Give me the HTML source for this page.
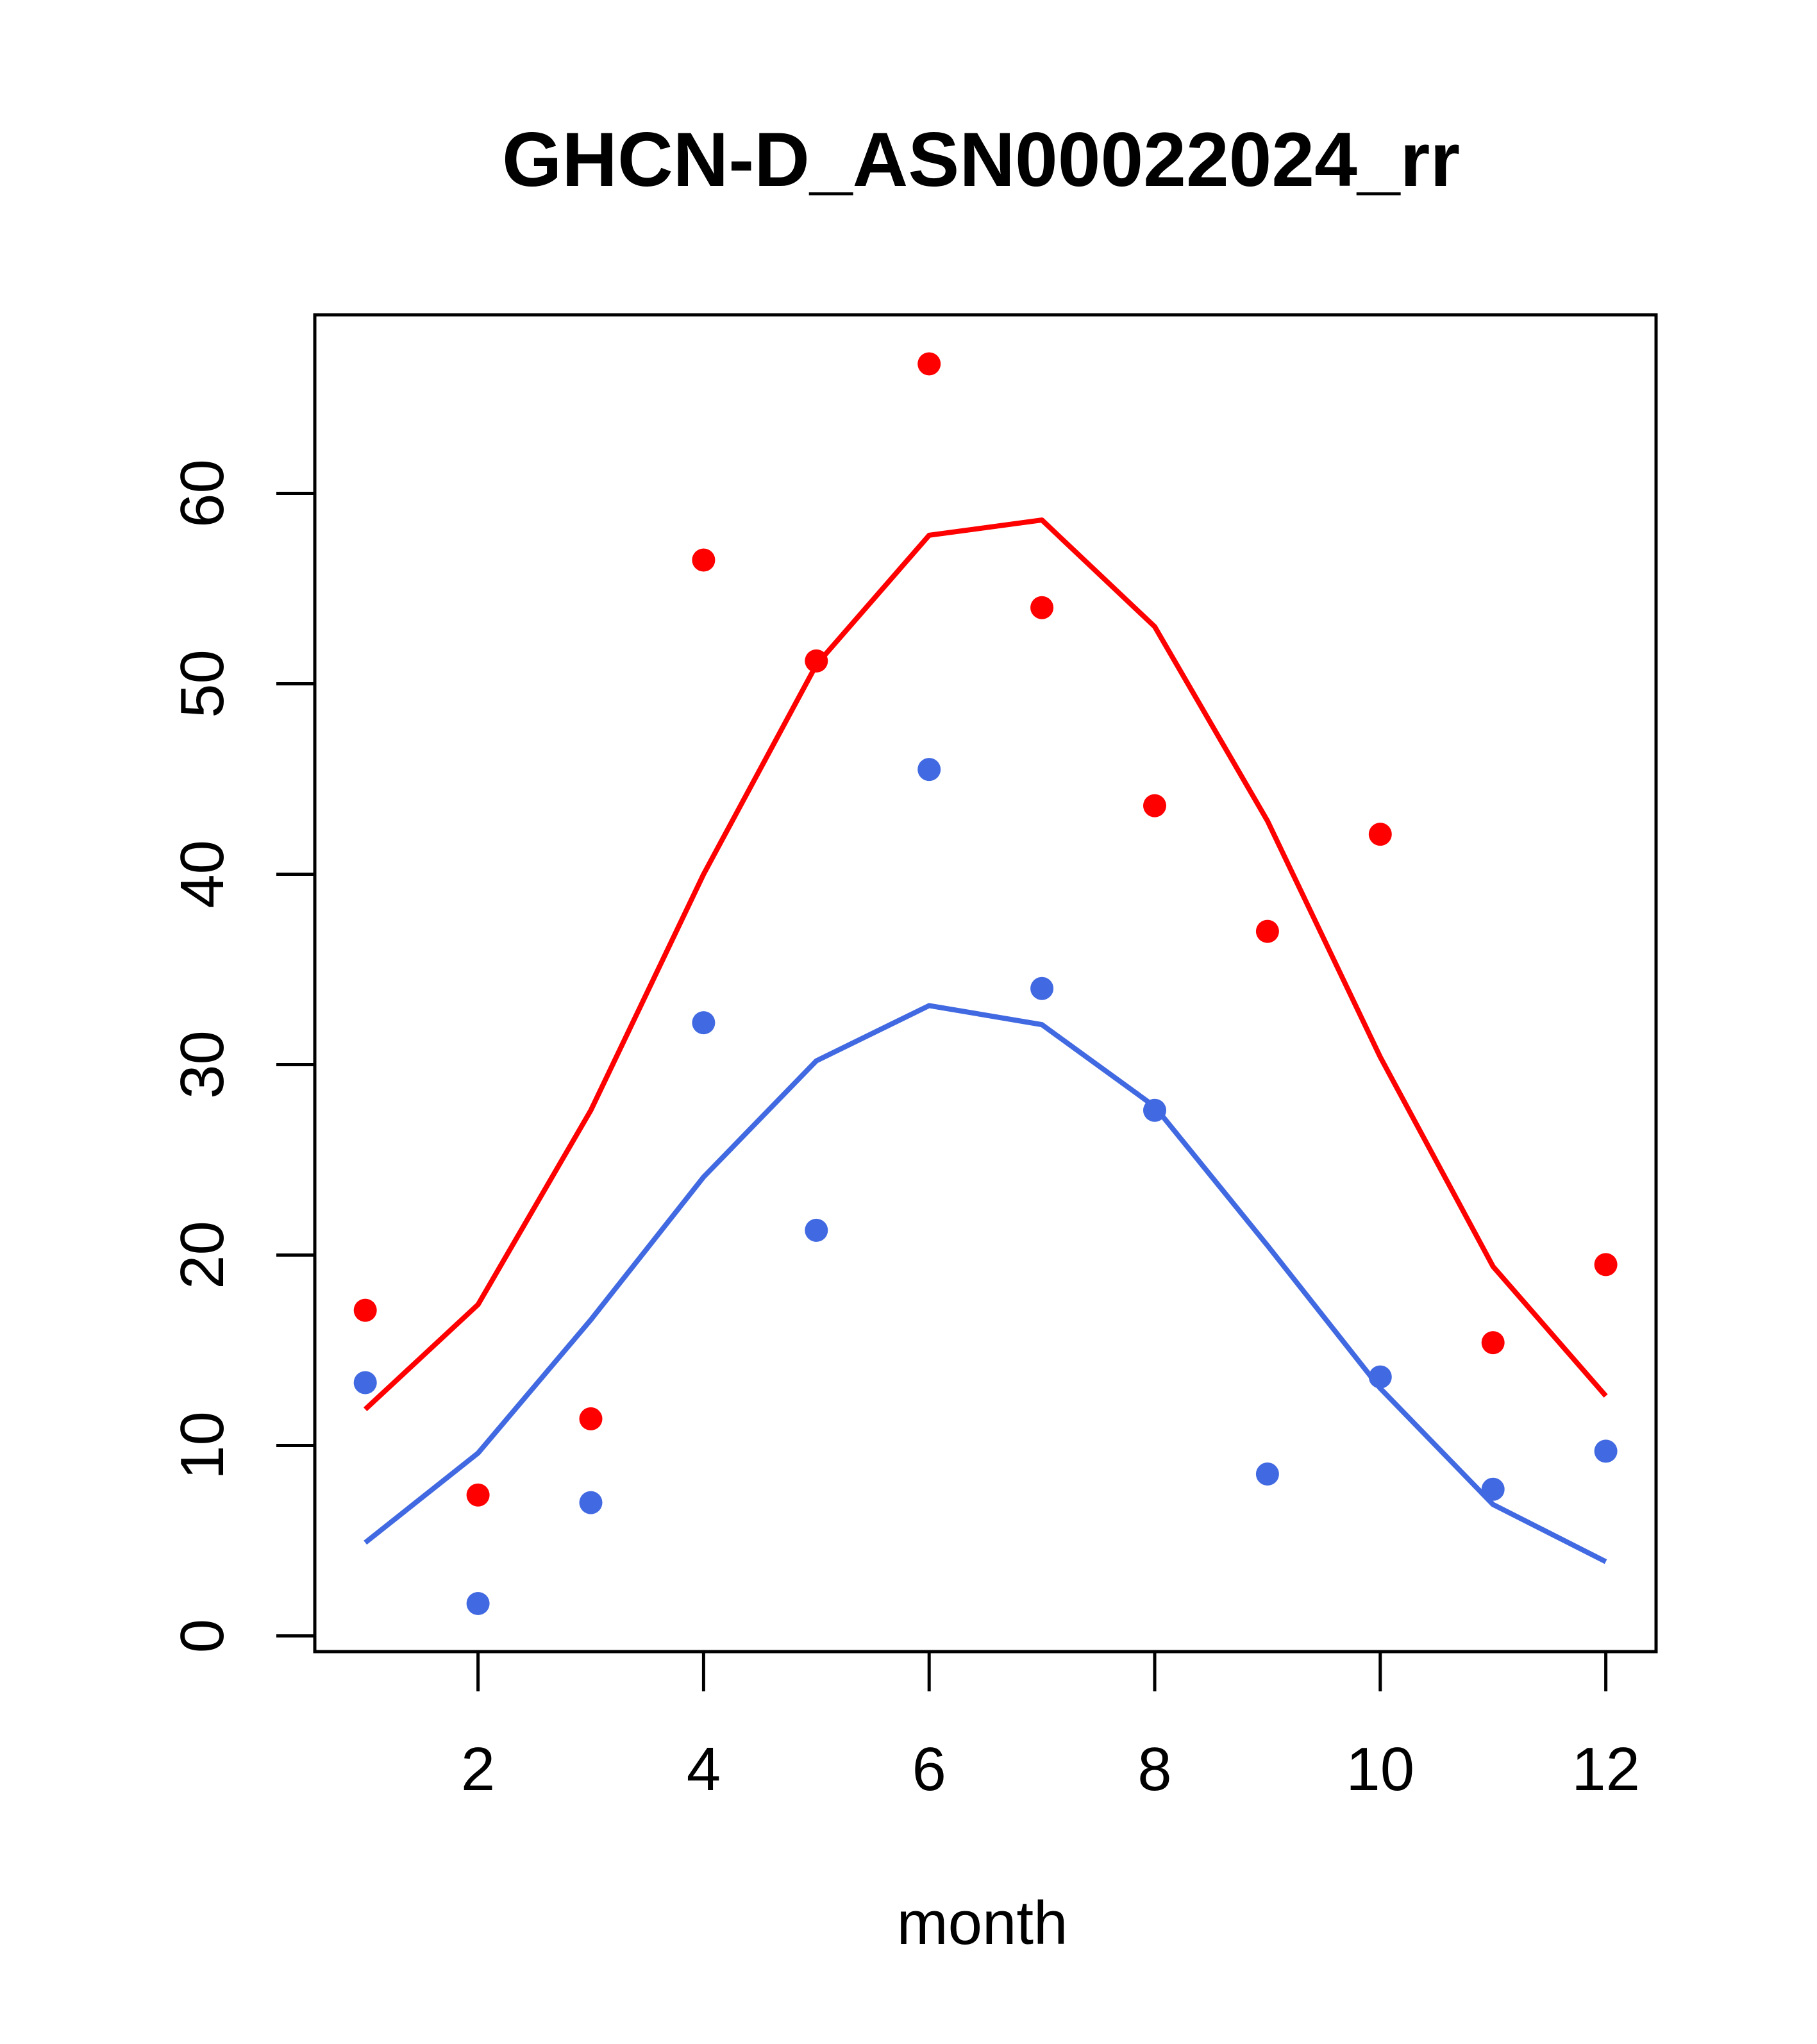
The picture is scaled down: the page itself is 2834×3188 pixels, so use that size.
<!DOCTYPE html>
<html><head><meta charset="utf-8"><style>html,body{margin:0;padding:0;background:#fff}svg{display:block}</style></head>
<body>
<svg id="chart" xmlns="http://www.w3.org/2000/svg" width="2834" height="3188" viewBox="0 0 2834 3188" font-family="Liberation Sans, sans-serif">
<rect width="2834" height="3188" fill="#fff"/>
<text x="1530" y="290" text-anchor="middle" font-size="120" font-weight="bold">GHCN-D_ASN00022024_rr</text>
<rect x="491" y="491" width="2092" height="2085" fill="none" stroke="#000" stroke-width="5"/>
<g id="axes"></g>
<g id="series"></g>
<text x="1532" y="3032" text-anchor="middle" font-size="96">month</text>
</svg>
<script>
const months = [1,2,3,4,5,6,7,8,9,10,11,12];
const redPoints = [17.1,7.4,11.4,56.5,51.2,66.8,54.0,43.6,37.0,42.1,15.4,19.5];
const redLine = [11.9,17.4,27.6,40.0,51.0,57.8,58.6,53.0,42.8,30.4,19.4,12.6];
const bluePoints = [13.3,1.7,7.0,32.2,21.3,45.5,34.0,27.6,8.5,13.6,7.7,9.7];
const blueLine = [4.9,9.6,16.6,24.1,30.2,33.1,32.1,27.8,20.5,13.0,6.9,3.9];
const xTicks = [2,4,6,8,10,12];
const yTicks = [0,10,20,30,40,50,60];

const NS = "http://www.w3.org/2000/svg";
function xs(m){ return 569.7 + (m-1)*175.9; }
function ys(v){ return 2551.5 - v*29.7; }
function mk(tag, attrs, parent){ const e=document.createElementNS(NS,tag); for(const k in attrs) e.setAttribute(k,attrs[k]); parent.appendChild(e); return e; }

const axes = document.getElementById('axes');
const series = document.getElementById('series');

const xl = mk('line',{x1:xs(2),x2:xs(12),y1:2576,y2:2576,stroke:'#000','stroke-width':5},axes);


xTicks.forEach(t=>{
  const l = mk('line',{x1:xs(t),x2:xs(t),y1:2576,y2:2638,stroke:'#000','stroke-width':5},axes);
  
  
  const tx = mk('text',{x:xs(t),y:2792,'text-anchor':'middle','font-size':96},axes);
  
  
  tx.textContent = t;
});
const yl = mk('line',{x1:491,x2:491,y1:ys(0),y2:ys(60),stroke:'#000','stroke-width':5},axes);


yTicks.forEach(t=>{
  const l = mk('line',{x1:431,x2:491,y1:ys(t),y2:ys(t),stroke:'#000','stroke-width':5},axes);
  
  
  const tx = mk('text',{x:0,y:0,'text-anchor':'middle','font-size':96,transform:`translate(348,${ys(t)}) rotate(-90)`},axes);
  
  
  tx.textContent = t;
});

function drawLine(vals,color,name){
  const p = mk('polyline',{points:vals.map((v,i)=>xs(months[i])+','+ys(v)).join(' '),fill:'none',stroke:color,'stroke-width':8,'stroke-linejoin':'round'},series);
  
  
}
function drawPts(vals,color,name){
  vals.forEach((v,i)=>{
    const c = mk('circle',{cx:xs(months[i]),cy:ys(v),r:18,fill:color},series);
    
    
  });
}
drawLine(redLine,'#ff0000','red-line');
drawLine(blueLine,'#4169e1','blue-line');
drawPts(redPoints,'#ff0000','red-point');
drawPts(bluePoints,'#4169e1','blue-point');
</script>
</body></html>
